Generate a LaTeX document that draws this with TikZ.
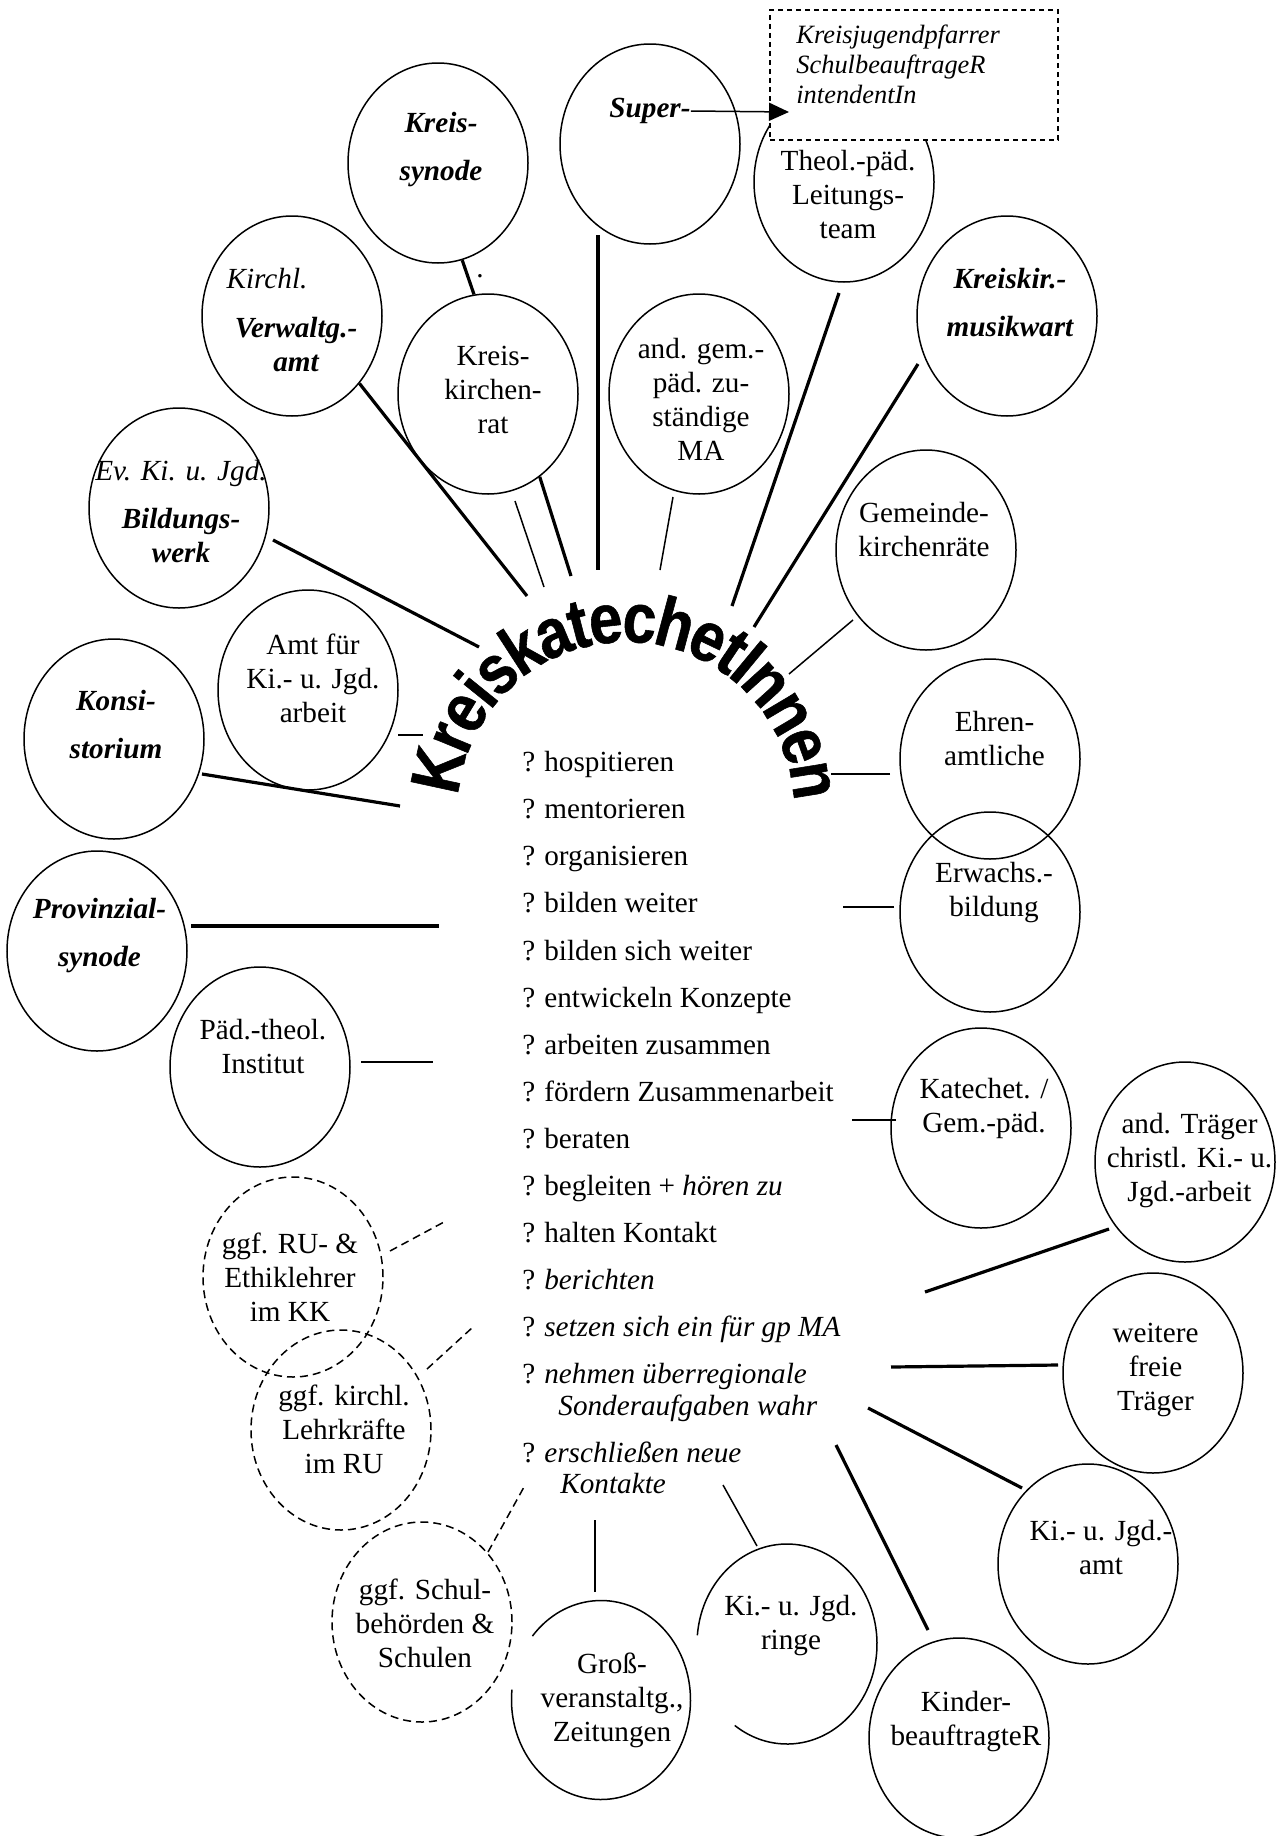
\documentclass[tikz,border=0pt]{standalone}
\usepackage{fontspec}
\setmainfont{Liberation Serif}
\newfontfamily\kkfont{Liberation Sans}[FakeStretch=0.86,FakeBold=0.8]
\usetikzlibrary{shapes.geometric,arrows.meta,decorations.text}
\tikzstyle{bub} = [ellipse, draw, line width=0.75pt, minimum width=90pt,
    minimum height=100pt, inner sep=0pt]
\tikzstyle{dbub} = [bub, dash pattern=on 4pt off 2.5pt]
\tikzstyle{hbub} = [ellipse, minimum width=90pt, minimum height=100pt, inner sep=0pt]
\tikzstyle{btxt} = [align=center, inner sep=0pt, font=\fontsize{14.6}{17}\selectfont]
\tikzstyle{bitxt} = [btxt, font=\fontsize{14.6}{17}\selectfont\bfseries\itshape]
\tikzstyle{jbox} = [rectangle, draw, fill=white, line width=0.75pt,
    dash pattern=on 2.5pt off 2pt, minimum width=144pt, minimum height=65pt]
\tikzstyle{lnk} = [line width=1.6pt]
\tikzstyle{thn} = [line width=0.75pt]
\tikzstyle{dln} = [line width=0.75pt, dash pattern=on 4pt off 2.5pt]
\newcommand{\qm}{?\hspace{4.5pt}}

\begin{document}
\begin{tikzpicture}[x=0.5pt,y=-0.5pt,>={Triangle[length=10pt,width=9pt]}]
  \useasboundingbox (0,0) rectangle (1288,1836);

  \node[bub]  (ksyn)   at (438,163)  {};
  \node[bub]  (sup)    at (650,144)  {};
  \node[bub]  (theol)  at (844,182)  {};
  \node[bub]  (kmw)    at (1007,316) {};
  \node[bub]  (verw)   at (292,316)  {};
  \node[bub]  (kkr)    at (488,394)  {};
  \node[bub]  (andgem) at (699,394)  {};
  \node[bub]  (bild)   at (179,508)  {};
  \node[bub]  (gkr)    at (926,550)  {};
  \node[bub]  (amt)    at (308,690)  {};
  \node[bub]  (kons)   at (114,739)  {};
  \node[bub]  (ehren)  at (990,759)  {};
  \node[bub]  (erw)    at (990,912)  {};
  \node[bub]  (prov)   at (97,951)   {};
  \node[bub]  (pti)    at (260,1067) {};
  \node[bub]  (kat)    at (981,1128) {};
  \node[bub]  (trg)    at (1185,1162) {};
  \node[dbub] (ru)     at (293,1277) {};
  \node[dbub] (lk)     at (341,1430) {};
  \node[bub]  (wft)    at (1153,1373) {};
  \node[bub]  (kja)    at (1088,1564) {};
  \node[dbub] (schul)  at (422,1622) {};
  \node[hbub] (ring)   at (787,1644) {};
  \node[hbub] (grs)    at (601,1700) {};
  \node[bub]  (kin)    at (959,1738) {};

  \draw[thn] (ring.center) ++(185:90 and 100)
    arc[start angle=185, end angle=485.5, x radius=90, y radius=100];
  \draw[thn] (grs.center) ++(220:89.5 and 99.5)
    arc[start angle=220, end angle=546, x radius=89.5, y radius=99.5];

  \node[bitxt,xshift=1.5pt,yshift=6.5pt] (ksynT) at (ksyn) {Kreis-\\[7pt]synode};
  \node[bitxt,yshift=16.5pt] (supT) at (sup) {Super-};
  \node[btxt,xshift=2pt,yshift=-6.5pt] (theolT) at (theol) {Theol.-päd.\\Leitungs-\\team};
  \node[bitxt,xshift=1.5pt,yshift=6.5pt] (kmwT) at (kmw) {Kreiskir.-\\[7pt]musikwart};
  \node[bitxt,xshift=2pt,yshift=-2.25pt] (verwT) at (verw)
    {{\mdseries Kirchl.}\hspace*{29pt}\\[7.5pt]Verwaltg.-\\amt};
  \node[btxt,xshift=2.5pt,yshift=2pt] (kkrT) at (kkr) {Kreis-\\kirchen-\\rat};
  \node[btxt,xshift=1pt,yshift=-2.5pt] (andgemT) at (andgem)
    {and. gem.-\\päd. zu-\\ständige\\MA};
  \node[bitxt,xshift=1pt,yshift=-2pt] (bildT) at (bild)
    {{\mdseries Ev. Ki. u. Jgd.}\\[7pt]Bildungs-\\werk};
  \node[btxt,xshift=-1pt,yshift=10pt] (gkrT) at (gkr) {Gemeinde-\\kirchenräte};
  \node[btxt,xshift=2.5pt,yshift=6pt] (amtT) at (amt) {Amt für\\Ki.- u. Jgd.\\arbeit};
  \node[bitxt,xshift=1pt,yshift=7pt] (konsT) at (kons) {Konsi-\\[7pt]storium};
  \node[btxt,xshift=2.25pt,yshift=10pt] (ehrenT) at (ehren) {Ehren-\\amtliche};
  \node[btxt,xshift=2pt,yshift=9.5pt] (erwT) at (erw) {Erwachs.-\\bildung};
  \node[bitxt,xshift=1.25pt,yshift=7.5pt] (provT) at (prov) {Provinzial-\\[7pt]synode};
  \node[btxt,xshift=1.5pt,yshift=10.5pt] (ptiT) at (pti) {Päd.-theol.\\Institut};
  \node[btxt,xshift=1.5pt,yshift=10pt] (katT) at (kat) {Katechet. /\\Gem.-päd.};
  \node[btxt,xshift=2.25pt,yshift=0.5pt] (trgT) at (trg)
    {and. Träger\\christl. Ki.- u.\\Jgd.-arbeit};
  \node[btxt,xshift=-1.5pt] (ruT) at (ru) {ggf. RU- \&\\Ethiklehrer\\im KK};
  \node[btxt,xshift=1.5pt,yshift=0.5pt] (lkT) at (lk) {ggf. kirchl.\\Lehrkräfte\\im RU};
  \node[btxt,xshift=1.25pt,yshift=1.5pt] (wftT) at (wft) {weitere\\freie\\Träger};
  \node[btxt,xshift=6.5pt,yshift=8.25pt] (kjaT) at (kja) {Ki.- u. Jgd.-\\amt};
  \node[btxt,xshift=1.5pt,yshift=-0.5pt] (schulT) at (schul)
    {ggf. Schul-\\behörden \&\\Schulen};
  \node[btxt,xshift=2pt,yshift=9.5pt] (ringT) at (ring) {Ki.- u. Jgd.\\ringe};
  \node[btxt,xshift=5.5pt] (grsT) at (grs) {Groß-\\veranstaltg.,\\Zeitungen};
  \node[btxt,xshift=3.5pt,yshift=8.5pt] (kinT) at (kin) {Kinder-\\beauftragteR};
  \node[btxt,anchor=base] (dot) at (480,277) {.};

  \node[jbox] (jpf) at (914,75) {};
  \node[anchor=west,align=left,inner sep=0pt,
        font=\fontsize{13.2}{15}\selectfont\itshape] (jpfT) at (796,64)
    {Kreisjugendpfarrer\\SchulbeauftrageR\\intendentIn};
  \coordinate (tip) at (789,112);
  \draw[thn,->] (supT.east) -- (tip);

  \path[decorate,decoration={text along path,text align=center,raise=-9pt,
      text={|\kkfont\bfseries\fontsize{35}{35}\selectfont|KreiskatechetInnen}}]
    (626,810) ++(-199:186) arc[start angle=-199,end angle=21,radius=186];

  \node[anchor=north west,align=left,inner sep=0pt,
        font=\fontsize{14.6}{15.7}\selectfont] (todo) at (522,751)
    {\qm hospitieren\\[7.85pt]
     \qm mentorieren\\[7.85pt]
     \qm organisieren\\[7.85pt]
     \qm bilden weiter\\[7.85pt]
     \qm bilden sich weiter\\[7.85pt]
     \qm entwickeln Konzepte\\[7.85pt]
     \qm arbeiten zusammen\\[7.85pt]
     \qm fördern Zusammenarbeit\\[7.85pt]
     \qm beraten\\[7.85pt]
     \qm begleiten + \textit{hören zu}\\[7.85pt]
     \qm halten Kontakt\\[7.85pt]
     \qm \textit{berichten}\\[7.85pt]
     \qm \textit{setzen sich ein für gp MA}\\[7.85pt]
     \qm \textit{nehmen überregionale}\\
     \hspace*{18pt}\textit{Sonderaufgaben wahr}\\[7.85pt]
     \qm \textit{erschließen neue}\\
     \hspace*{19pt}\textit{Kontakte}};

  \coordinate (verwE) at (527,596);
  \coordinate (kkrS) at (515,501);  \coordinate (kkrE) at (544,587);
  \coordinate (kkrF) at (571,576);
  \coordinate (supS) at (598,235);  \coordinate (supE) at (598,570);
  \coordinate (theolS) at (839,293); \coordinate (theolE) at (732,606);
  \coordinate (kmwS) at (918,364);  \coordinate (kmwE) at (754,627);
  \coordinate (andS) at (673,497);  \coordinate (andE) at (660,570);
  \coordinate (gkrS) at (853,620);  \coordinate (gkrE) at (789,674);
  \coordinate (bildS) at (273,540); \coordinate (bildE) at (479,647);
  \coordinate (amtS) at (398,735);  \coordinate (amtE) at (423,735);
  \coordinate (konsS) at (202,774); \coordinate (konsE) at (400,806);
  \coordinate (provS) at (191,926); \coordinate (provE) at (439,926);
  \coordinate (ptiS) at (361,1062); \coordinate (ptiE) at (433,1062);
  \coordinate (ehrS) at (890,774);  \coordinate (ehrE) at (831,774);
  \coordinate (erwS) at (894,907);  \coordinate (erwE) at (843,907);
  \coordinate (katS) at (896,1120); \coordinate (katE) at (852,1120);
  \coordinate (trgS) at (1109,1229); \coordinate (trgE) at (925,1292);
  \coordinate (wftS) at (1058,1365); \coordinate (wftE) at (891,1367);
  \coordinate (kjaS) at (1022,1488); \coordinate (kjaE) at (868,1408);
  \coordinate (kinS) at (928,1630); \coordinate (kinE) at (836,1445);
  \coordinate (ringS) at (757,1546); \coordinate (ringE) at (723,1485);
  \coordinate (grsS) at (595,1592); \coordinate (grsE) at (595,1520);
  \coordinate (ruS) at (390,1251);  \coordinate (ruE) at (444,1222);
  \coordinate (lkS) at (427,1369);  \coordinate (lkE) at (473,1327);
  \coordinate (schS) at (488,1552); \coordinate (schE) at (524,1487);

  \draw[lnk] (ksyn.-76) -- (kkr.98);
  \draw[lnk] (verw.-45) -- (verwE);
  \draw[thn] (kkrS) -- (kkrE);
  \draw[lnk] (kkr.-58) -- (kkrF);
  \draw[lnk] (supS) -- (supE);
  \draw[lnk] (theolS) -- (theolE);
  \draw[lnk] (kmwS) -- (kmwE);
  \draw[thn] (andS) -- (andE);
  \draw[thn] (gkrS) -- (gkrE);
  \draw[lnk] (bildS) -- (bildE);
  \draw[thn] (amtS) -- (amtE);
  \draw[lnk] (konsS) -- (konsE);
  \draw[lnk] (provS) -- (provE);
  \draw[thn] (ptiS) -- (ptiE);
  \draw[thn] (ehrS) -- (ehrE);
  \draw[thn] (erwS) -- (erwE);
  \draw[thn] (katS) -- (katE);
  \draw[lnk] (trgS) -- (trgE);
  \draw[lnk] (wftS) -- (wftE);
  \draw[lnk] (kjaS) -- (kjaE);
  \draw[lnk] (kinS) -- (kinE);
  \draw[thn] (ringS) -- (ringE);
  \draw[thn] (grsS) -- (grsE);
  \draw[dln] (ruS) -- (ruE);
  \draw[dln] (lkS) -- (lkE);
  \draw[dln] (schS) -- (schE);
\end{tikzpicture}
\end{document}
